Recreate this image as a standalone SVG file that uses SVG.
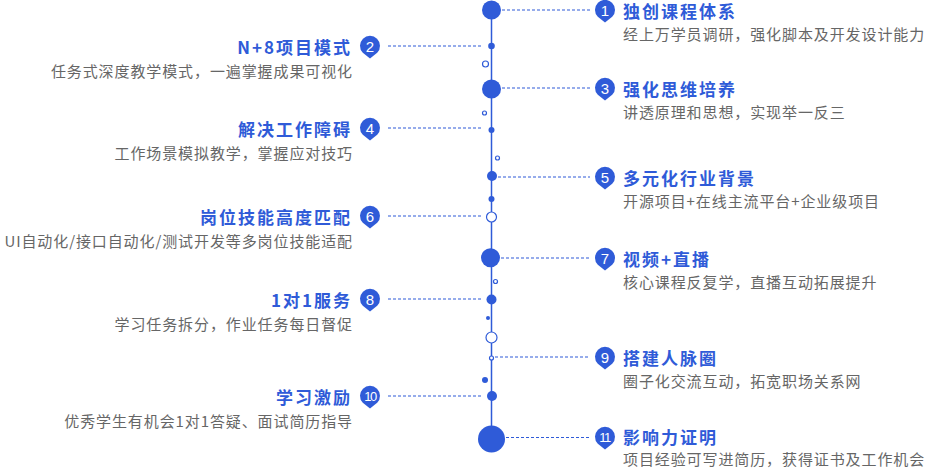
<svg xmlns="http://www.w3.org/2000/svg" width="928" height="469" viewBox="0 0 928 469">
<style>
.b{fill:#2f5bd8}.o{fill:#fff;stroke:#2f5bd8;stroke-width:1.2}
.d{stroke:#2f5bd8;stroke-width:1.2;stroke-dasharray:3 2;fill:none}
.n{font-family:"Liberation Sans",Arial,sans-serif;font-size:15px;fill:#fff;text-anchor:middle}
.t{font-family:"Noto Sans CJK SC",sans-serif;font-size:17px;letter-spacing:2px;font-weight:bold;fill:#2f5bd8}
.s{font-family:"Noto Sans CJK SC",sans-serif;font-size:15px;letter-spacing:0.9px;fill:#666}
.r{text-anchor:end}
</style>
<defs><path id="bd" class="b" d="M-7.2,6.8 A10,10 0 1 1 7.2,6.8 L0,12.5 Z"/></defs>
<g id="connectors">
<line x1="491.5" y1="10" x2="491.5" y2="439" stroke="#2f5bd8" stroke-width="1.5"/>
<line class="d" x1="502" y1="10" x2="590" y2="10"/>
<line class="d" x1="388" y1="46" x2="482" y2="46"/>
<line class="d" x1="502" y1="88" x2="590" y2="88"/>
<line class="d" x1="388" y1="128" x2="482" y2="128"/>
<line class="d" x1="498" y1="177" x2="590" y2="177"/>
<line class="d" x1="388" y1="216" x2="482" y2="216"/>
<line class="d" x1="501" y1="258" x2="590" y2="258"/>
<line class="d" x1="388" y1="299" x2="482" y2="299"/>
<line class="d" x1="495" y1="357" x2="590" y2="357"/>
<line class="d" x1="388" y1="396" x2="482" y2="396"/>
<line class="d" x1="506" y1="437.5" x2="590" y2="437.5"/>
</g>
<g id="dots">
<circle class="b" cx="491.5" cy="10" r="9.5"/>
<circle class="b" cx="491.5" cy="46" r="3.3"/>
<circle class="o" cx="485.5" cy="64" r="3"/>
<circle class="b" cx="491.5" cy="89" r="9.5"/>
<circle class="o" cx="484.5" cy="113" r="2"/>
<circle class="b" cx="491.5" cy="130" r="3"/>
<circle class="o" cx="497.5" cy="158" r="2"/>
<circle class="b" cx="492" cy="176" r="5"/>
<circle class="b" cx="491.5" cy="199" r="3"/>
<circle class="o" cx="491.5" cy="217" r="5"/>
<circle class="b" cx="490.5" cy="257.7" r="9.5"/>
<circle class="o" cx="495.5" cy="281.5" r="2"/>
<circle class="b" cx="491.5" cy="299.5" r="5"/>
<circle class="b" cx="488" cy="318" r="2"/>
<circle class="o" cx="491.5" cy="337.5" r="5.5"/>
<circle class="o" cx="491.5" cy="358" r="2"/>
<circle class="b" cx="485" cy="380" r="3"/>
<circle class="b" cx="492" cy="396" r="5"/>
<circle class="b" cx="491.5" cy="439" r="13.5"/>
</g>
<g id="n1"><use href="#bd" x="605" y="10"/><text class="n" x="605" y="15.5">1</text><text class="t" x="623" y="18">独创课程体系</text><text class="s" x="623" y="40">经上万学员调研，强化脚本及开发设计能力</text></g>
<g id="n2"><use href="#bd" x="370" y="46"/><text class="n" x="370" y="51.5">2</text><text class="t r" x="352" y="54">N+8项目模式</text><text class="s r" x="353" y="77">任务式深度教学模式，一遍掌握成果可视化</text></g>
<g id="n3"><use href="#bd" x="605" y="88"/><text class="n" x="605" y="93.5">3</text><text class="t" x="623" y="96">强化思维培养</text><text class="s" x="623" y="118">讲透原理和思想，实现举一反三</text></g>
<g id="n4"><use href="#bd" x="370" y="128"/><text class="n" x="370" y="133.5">4</text><text class="t r" x="352" y="136">解决工作障碍</text><text class="s r" x="353" y="159">工作场景模拟教学，掌握应对技巧</text></g>
<g id="n5"><use href="#bd" x="605" y="177"/><text class="n" x="605" y="182.5">5</text><text class="t" x="623" y="185">多元化行业背景</text><text class="s" x="623" y="207">开源项目+在线主流平台+企业级项目</text></g>
<g id="n6"><use href="#bd" x="370" y="216"/><text class="n" x="370" y="221.5">6</text><text class="t r" x="352" y="224">岗位技能高度匹配</text><text class="s r" x="353" y="247">UI自动化/接口自动化/测试开发等多岗位技能适配</text></g>
<g id="n7"><use href="#bd" x="605" y="258"/><text class="n" x="605" y="263.5">7</text><text class="t" x="623" y="266">视频+直播</text><text class="s" x="623" y="288">核心课程反复学，直播互动拓展提升</text></g>
<g id="n8"><use href="#bd" x="370" y="299"/><text class="n" x="370" y="304.5">8</text><text class="t r" x="352" y="307">1对1服务</text><text class="s r" x="353" y="330">学习任务拆分，作业任务每日督促</text></g>
<g id="n9"><use href="#bd" x="605" y="357"/><text class="n" x="605" y="362.5">9</text><text class="t" x="623" y="365">搭建人脉圈</text><text class="s" x="623" y="387">圈子化交流互动，拓宽职场关系网</text></g>
<g id="n10"><use href="#bd" x="370" y="396"/><text class="n" x="370" y="401" style="font-size:13px;letter-spacing:-1.5px">10</text><text class="t r" x="352" y="404">学习激励</text><text class="s r" x="353" y="427">优秀学生有机会1对1答疑、面试简历指导</text></g>
<g id="n11"><use href="#bd" x="605" y="437"/><text class="n" x="604.5" y="442" style="font-size:13px;letter-spacing:-1.5px">11</text><text class="t" x="623" y="444">影响力证明</text><text class="s" x="623" y="465">项目经验可写进简历，获得证书及工作机会</text></g>
</svg>
